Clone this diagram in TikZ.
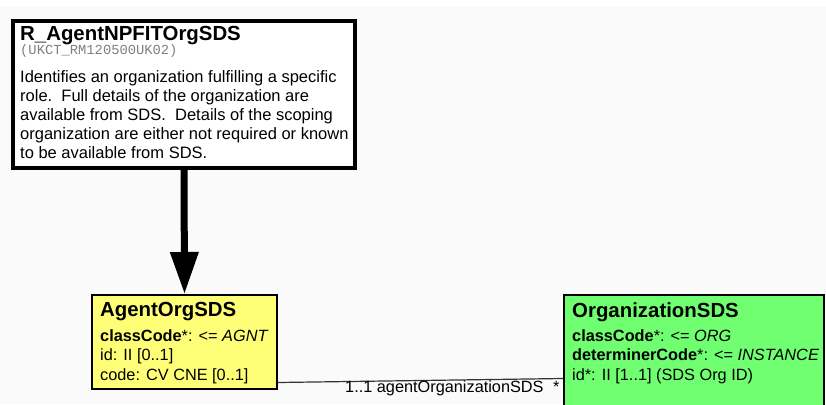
\documentclass[tikz,border=0pt]{standalone}
\usepackage{fontspec}
\setmainfont{Liberation Sans}
\setmonofont{Liberation Mono}
\usetikzlibrary{positioning,arrows.meta}

\definecolor{paper}{RGB}{250,250,250}
\definecolor{actyellow}{RGB}{255,255,119}
\definecolor{entgreen}{RGB}{112,255,112}

\begin{document}
\begin{tikzpicture}[x=1pt,y=-1pt,
    classbox/.style={draw,line width=2pt,anchor=north west,inner sep=0pt},
    boxtitle/.style={anchor=base west,inner sep=0pt,font=\fontsize{20.4}{24}\selectfont\bfseries},
    attrs/.style={anchor=base west,inner sep=0pt,align=left,font=\fontsize{16.3}{19.5}\selectfont}]
    \clip (0,0) rectangle (826,404);
    \fill[white] (0,0) rectangle (826,404);
    \fill[paper] (0,7) rectangle (826,404);
    % boxes
    \node[classbox,line width=4pt,fill=white,minimum width=342pt,minimum height=147pt] (role) at (11,19) {};
    \node[classbox,fill=actyellow,minimum width=185pt,minimum height=94pt] (agent) at (91,294) {};
    \node[classbox,fill=entgreen,minimum width=260pt,minimum height=140pt] (org) at (563,294) {};
    % texts (base of a multi-line node = its last line)
    \node[boxtitle] (roletitle) at (20,41) {R\_AgentNPFITOrgSDS};
    \node[anchor=base west,inner sep=0pt,text=gray,font=\fontsize{13.8}{16}\selectfont\ttfamily] (roleid) at (20,55) {(UKCT\_RM120500UK02)};
    \node[attrs,font=\fontsize{16.5}{19}\selectfont] (roletext) at (20,158)
        {Identifies an organization fulfilling a specific\\
         role.\ \ Full details of the organization are\\
         available from SDS.\ \ Details of the scoping\\
         organization are either not required or known\\
         to be available from SDS.};
    \node[boxtitle] (agenttitle) at (100,316) {AgentOrgSDS};
    \node[attrs] (agentattr) at (100,380)
        {\textbf{classCode}*: <= \textit{AGNT}\\
         id: II [0..1]\\
         code: CV CNE [0..1]};
    \node[boxtitle] (orgtitle) at (572,317) {OrganizationSDS};
    \node[attrs] (orgattr) at (572,380)
        {\textbf{classCode}*: <= \textit{ORG}\\
         \textbf{determinerCode}*: <= \textit{INSTANCE}\\
         id*: II [1..1] (SDS Org ID)};
    % connectors
    \draw[line width=7pt,-{Triangle[width=27pt,length=42pt]}] (role.south) -- (agent.north);
    \coordinate (agentend) at ([yshift=7.5pt]agent.south east);
    \coordinate (orgend) at ([yshift=-84.5pt]org.north west);
    \draw[line width=1.2pt,black!80] (agentend) -- (orgend);
    \node[anchor=base west,inner sep=0pt,font=\fontsize{16.3}{19.5}\selectfont] (rolename) at (345,392) {1..1 agentOrganizationSDS};
    \node[anchor=base west,inner sep=0pt,font=\fontsize{16.3}{19.5}\selectfont] (rolemult) at (553,392) {*};
\end{tikzpicture}
\end{document}
